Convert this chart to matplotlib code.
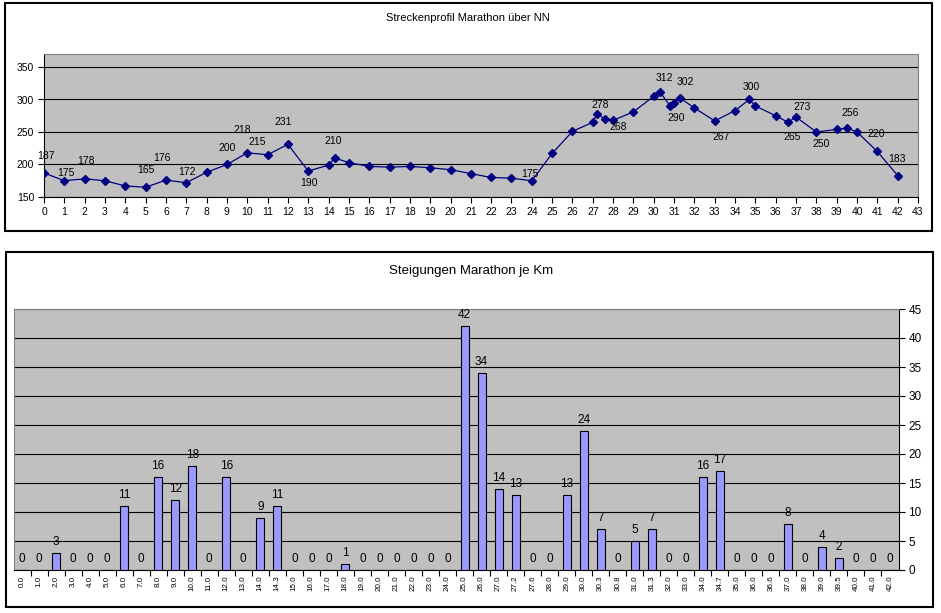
import matplotlib
matplotlib.use('Agg')
import matplotlib.pyplot as plt
from matplotlib.patches import Rectangle
import numpy as np

plt.rcParams['font.family'] = ['Liberation Sans', 'DejaVu Sans']

# ---------------- data ----------------
km = [0, 1, 2, 3, 4, 5, 6, 7, 8, 9, 10, 11, 12, 13, 14, 14.3, 15, 16, 17, 18,
      19, 20, 21, 22, 23, 24, 25, 26, 27, 27.2, 27.6, 28, 29, 30, 30.3, 30.8,
      31, 31.3, 32, 33, 34, 34.7, 35, 36, 36.6, 37, 38, 39, 39.5, 40, 41, 42]
elevation = [187, 175, 178, 175, 167, 165, 176, 172, 188, 200, 218, 215, 231,
             190, 199, 210, 203, 197, 196, 197, 195, 192, 186, 180, 179, 175,
             217, 251, 265, 278, 270, 268, 281, 305, 312, 290, 295, 302, 287,
             267, 283, 300, 290, 275, 265, 273, 250, 254, 256, 250, 220, 183]

km_labels = ['0.0', '1.0', '2.0', '3.0', '4.0', '5.0', '6.0', '7.0', '8.0',
             '9.0', '10.0', '11.0', '12.0', '13.0', '14.0', '14.3', '15.0',
             '16.0', '17.0', '18.0', '19.0', '20.0', '21.0', '22.0', '23.0',
             '24.0', '25.0', '26.0', '27.0', '27.2', '27.6', '28.0', '29.0',
             '30.0', '30.3', '30.8', '31.0', '31.3', '32.0', '33.0', '34.0',
             '34.7', '35.0', '36.0', '36.6', '37.0', '38.0', '39.0', '39.5',
             '40.0', '41.0', '42.0']
climb = [0, 0, 3, 0, 0, 0, 11, 0, 16, 12, 18, 0, 16, 0, 9, 11, 0, 0, 0, 1,
         0, 0, 0, 0, 0, 0, 42, 34, 14, 13, 0, 0, 13, 24, 7, 0, 5, 7, 0, 0,
         16, 17, 0, 0, 0, 8, 0, 4, 2, 0, 0, 0]

top_title = 'Streckenprofil Marathon über NN'
bottom_title = 'Steigungen Marathon je Km'

# which elevation points carry a label, with label offsets (pixels)
label_offsets = {0: (2, 17), 1: (2, 8), 2: (1, 18), 5: (0, 17), 6: (-4, 22),
                 7: (1, 11), 9: (0, 16), 10: (-5, 23), 11: (-10, 13),
                 12: (-5, 22), 13: (1, -12), 15: (-1, 17), 25: (-2, 7),
                 29: (3, 9), 31: (5, -7), 34: (5, 14), 35: (6, -12),
                 37: (5, 16), 39: (6, -16), 41: (2, 12), 44: (4, -15),
                 45: (6, 10), 46: (5, -12), 48: (3, 15), 50: (-1, 17),
                 51: (-1, 17)}

# ---------------- figure ----------------
W, H = 941, 613
fig = plt.figure(figsize=(W / 100, H / 100), dpi=100)
fig.patch.set_facecolor('white')


def frac(x0, y0, x1, y1):
    return [x0 / W, 1 - y1 / H, (x1 - x0) / W, (y1 - y0) / H]


for (x0, y0, x1, y1) in [(5, 3, 932, 231), (6, 252, 933, 607)]:
    r = frac(x0, y0, x1, y1)
    fig.patches.append(Rectangle((r[0], r[1]), r[2], r[3],
                                 transform=fig.transFigure, fill=False,
                                 ec='black', lw=1.5, zorder=0))

GRAY = '#C0C0C0'
NAVY = '#000080'

# ---------------- top chart ----------------
ax1 = fig.add_axes(frac(44, 54, 918, 197))
ax1.set_facecolor(GRAY)
ax1.plot(km, elevation, color=NAVY, lw=0.9, marker='D', ms=4,
         mfc=NAVY, mec=NAVY, zorder=3)
ax1.set_xlim(0, 43)
ax1.set_ylim(150, 370)
ax1.set_xticks(range(0, 44))
ax1.set_yticks(range(150, 351, 50))
ax1.grid(axis='y', color='black', lw=0.8)
ax1.set_axisbelow(True)
for s in ['top', 'right']:
    ax1.spines[s].set_color('#808080')
for s in ['left', 'bottom']:
    ax1.spines[s].set_color('black')
ax1.tick_params(direction='out', length=4, width=0.8, labelsize=7.5, pad=3)
for i, (dx, dy) in label_offsets.items():
    ax1.annotate(str(elevation[i]), (km[i], elevation[i]), xytext=(dx, dy),
                 textcoords='offset pixels', ha='center', va='center',
                 fontsize=7.5, color='black', zorder=4)

fig.text(468 / W, 1 - 18 / H, top_title, ha='center', va='center',
         fontsize=8)

# ---------------- bottom chart ----------------
ax2 = fig.add_axes(frac(13.5, 309, 898.5, 570))
ax2.set_facecolor(GRAY)
x = np.arange(len(km_labels))
ax2.bar(x, climb, width=0.47, color='#9999FF', edgecolor='black', lw=0.8,
        zorder=3)
ax2.set_xlim(-0.5, len(km_labels) - 0.5)
ax2.set_ylim(0, 45)
ax2.yaxis.tick_right()
ax2.set_yticks(range(0, 46, 5))
ax2.grid(axis='y', color='black', lw=0.8)
ax2.set_axisbelow(True)
ax2.set_xticks(x)
ax2.set_xticklabels(km_labels, rotation=90, fontsize=5.8)
ax2.set_xticks(x[:-1] + 0.5, minor=True)
ax2.tick_params(axis='x', which='major', length=0, pad=4)
ax2.tick_params(axis='x', which='minor', length=4, width=0.8, direction='out')
ax2.tick_params(axis='y', direction='out', length=4, width=0.8,
                labelsize=8.5, pad=3)
for s in ['top', 'left']:
    ax2.spines[s].set_color('#808080')
for s in ['right', 'bottom']:
    ax2.spines[s].set_color('black')
for xi, v in zip(x, climb):
    ax2.annotate(str(v), (xi, v), xytext=(0, 5), textcoords='offset pixels',
                 ha='center', va='bottom', fontsize=8.5, zorder=4)

fig.text(471 / W, 1 - 271 / H, bottom_title, ha='center', va='center',
         fontsize=9.5)

fig.savefig('out.png', dpi=100)
